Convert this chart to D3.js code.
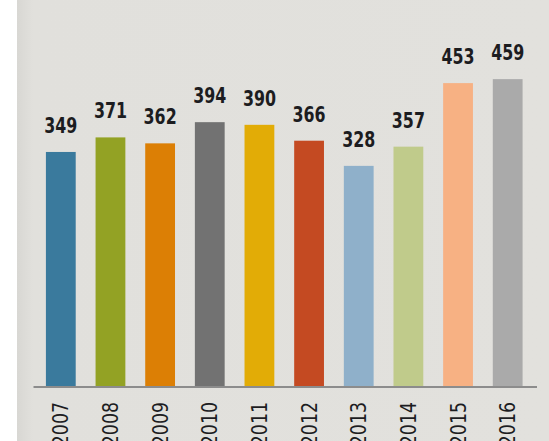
<!DOCTYPE html>
<html>
<head>
<meta charset="utf-8">
<script src="https://cdn.jsdelivr.net/npm/d3@7"></script>
<style>
html,body{margin:0;padding:0;background:#fff;}
svg{display:block;}
</style>
</head>
<body>
<svg id="chart" width="549" height="441"></svg>
<script>
const years = ["2007","2008","2009","2010","2011","2012","2013","2014","2015","2016"];
const values = [349, 371, 362, 394, 390, 366, 328, 357, 453, 459];
const colors = ["#3a7a9d","#93a224","#dc7f05","#727272","#e2ac06","#c44a22","#8fb0ca","#c0cb8b","#f7b183","#aaaaaa"];

const svg = d3.select("#chart");
const W = 549, H = 441;
const baseline = 387;

const defs = svg.append("defs");
const grad = defs.append("linearGradient").attr("id","bg").attr("x1","0").attr("x2","1").attr("y1","0").attr("y2","0");
grad.append("stop").attr("offset","0").attr("stop-color","#d8d7d3");
grad.append("stop").attr("offset","0.03").attr("stop-color","#e1e0dc");
grad.append("stop").attr("offset","1").attr("stop-color","#e2e1dd");

svg.append("rect").attr("x",17).attr("y",0).attr("width",W-17).attr("height",H).attr("fill","url(#bg)");

const x = d3.scaleBand().domain(years).range([33.5, 535]).paddingInner(0.4).paddingOuter(0.25);
const y = d3.scaleLinear().domain([0, 480]).range([383, 383 - 0.662*480]);

const font = "'DejaVu Sans Condensed','Liberation Sans Narrow','Arial Narrow',sans-serif";

svg.append("g").selectAll("rect").data(values).join("rect")
  .attr("x",(d,i)=>x(years[i]))
  .attr("width",x.bandwidth())
  .attr("y",d=>y(d))
  .attr("height",d=>baseline - y(d))
  .attr("fill",(d,i)=>colors[i]);

svg.append("g").selectAll("text").data(values).join("text")
  .attr("transform",(d,i)=>`translate(${x(years[i]) + x.bandwidth()/2},${y(d) - 19}) scale(0.84,1)`)
  .attr("text-anchor","middle")
  .attr("font-family",font)
  .attr("font-weight","bold")
  .attr("font-size",21)
  .attr("fill","#1c1c1f")
  .text(d=>d);

const axis = d3.axisBottom(x).tickSize(0).tickPadding(0);
const ag = svg.append("g").attr("transform",`translate(0,${baseline})`).call(axis);
ag.select(".domain").attr("stroke","#8c8c8c").attr("stroke-width",2).attr("d","M33.5,0H537");
ag.selectAll(".tick text")
  .attr("font-family",font)
  .attr("font-size",21)
  .attr("fill","#1c1c1f")
  .attr("text-anchor","end")
  .attr("transform","rotate(-90) scale(0.92,1)")
  .attr("x",-16.3)
  .attr("y",0)
  .attr("dy","0.36em");
</script>
</body>
</html>
